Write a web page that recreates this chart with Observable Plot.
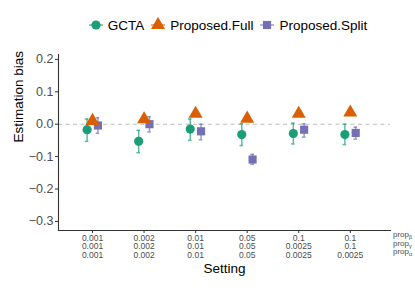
<!DOCTYPE html>
<html>
<head>
<meta charset="utf-8">
<script src="https://cdn.jsdelivr.net/npm/d3@7"></script>
<script src="https://cdn.jsdelivr.net/npm/@observablehq/plot@0.6"></script>
<style>
  html, body { margin: 0; padding: 0; background: #fff; }
  #wrap { position: relative; width: 415px; height: 291px; overflow: hidden; font-family: "Liberation Sans", Arial, Helvetica, sans-serif; }
  #legend { position: absolute; top: 17px; left: 0; width: 415px; display: flex; justify-content: center; align-items: center; font-size: 13.5px; color: #000; padding-left: 44px; box-sizing: border-box; }
  #legend .item { display: flex; align-items: center; margin-right: 5px; }
  #legend svg { margin-right: 3px; }
  #props { position: absolute; left: 393px; top: 231px; font-size: 8px; color: #4d4d4d; line-height: 8.6px; white-space: nowrap; }
  #props sub { font-size: 5.5px; vertical-align: -1.5px; line-height: 0; }
</style>
</head>
<body>
<div id="wrap">
  <div id="chart"></div>
  <div id="legend"></div>
  <div id="props">prop<sub>β</sub><br>prop<sub>γ</sub><br>prop<sub>α</sub></div>
</div>
<script>
// ---- data ----
const propBeta  = ["0.001", "0.002", "0.01", "0.05", "0.1",    "0.1"];
const propGamma = ["0.001", "0.002", "0.01", "0.05", "0.0025", "0.1"];
const propAlpha = ["0.001", "0.002", "0.01", "0.05", "0.0025", "0.0025"];

const seriesNames = ["GCTA", "Proposed.Full", "Proposed.Split"];
const seriesColors = ["#1B9E77", "#D95F02", "#7570B3"];
const seriesSymbols = ["circle", "triangle", "square"];

const gctaMean = [-0.017, -0.053, -0.015, -0.032, -0.029, -0.032];
const gctaLo   = [-0.053, -0.088, -0.050, -0.066, -0.061, -0.063];
const gctaHi   = [ 0.016, -0.019,  0.016,  0.001,  0.003,  0.000];

const fullMean = [0.010, 0.015, 0.032, 0.017, 0.032, 0.036];
const fullLo   = [0.006, 0.011, 0.028, 0.013, 0.028, 0.032];
const fullHi   = [0.014, 0.019, 0.036, 0.021, 0.036, 0.040];

const splitMean = [-0.004,  0.000, -0.022, -0.109, -0.017, -0.027];
const splitLo   = [-0.028, -0.024, -0.048, -0.124, -0.040, -0.046];
const splitHi   = [ 0.020,  0.023,  0.000, -0.093,  0.001, -0.009];

const yTicks = [-0.3, -0.2, -0.1, 0.0, 0.1, 0.2];

// ---- build table ----
const dodge = [-0.105, 0, 0.105];
const means = [gctaMean, fullMean, splitMean];
const los = [gctaLo, fullLo, splitLo];
const his = [gctaHi, fullHi, splitHi];
const rows = [];
seriesNames.forEach((s, k) => {
  means[k].forEach((m, i) => {
    rows.push({s, i, x: i + dodge[k], y: m, lo: los[k][i], hi: his[k][i]});
  });
});
const cap = 0.035;
const tri = rows.filter(d => d.s === "Proposed.Full");
const others = rows.filter(d => d.s !== "Proposed.Full");

const chart = Plot.plot({
  width: 415,
  height: 291,
  marginLeft: 58,
  marginRight: 25,
  marginTop: 54,
  marginBottom: 61,
  style: {fontFamily: "'Liberation Sans', Arial, Helvetica, sans-serif", background: "#fff"},
  x: {domain: [-0.66, 5.78], axis: null},
  y: {domain: [-0.328, 0.215], axis: null},
  color: {domain: seriesNames, range: seriesColors},
  symbol: {domain: seriesNames, range: seriesSymbols},
  marks: [
    Plot.ruleY([0], {stroke: "#bdbdbd", strokeDasharray: "4,3.5", strokeWidth: 1.1}),
    Plot.ruleX(rows, {x: "x", y1: "lo", y2: "hi", stroke: "s", strokeOpacity: 0.7, strokeWidth: 1.5}),
    Plot.ruleY(rows, {y: "lo", x1: d => d.x - cap, x2: d => d.x + cap, stroke: "s", strokeOpacity: 0.7, strokeWidth: 1.5}),
    Plot.ruleY(rows, {y: "hi", x1: d => d.x - cap, x2: d => d.x + cap, stroke: "s", strokeOpacity: 0.7, strokeWidth: 1.5}),
    Plot.dot(others, {x: "x", y: "y", fill: "s", symbol: "s", r: 4.6, stroke: "none"}),
    Plot.dot(tri, {x: "x", y: "y", fill: "s", symbol: "s", r: 5.2, stroke: "none"}),
    Plot.frame({anchor: "left", stroke: "#333", strokeWidth: 1.1}),
    Plot.frame({anchor: "bottom", stroke: "#333", strokeWidth: 1.1}),
    Plot.axisY({ticks: yTicks, tickFormat: d => d.toFixed(1).replace("-", "\u2212"), fontSize: 12.5, color: "#4d4d4d", stroke: "#333", tickSize: 3, tickPadding: 2, label: null}),
    Plot.axisX({ticks: [0, 1, 2, 3, 4, 5], tickFormat: i => `${propBeta[i]}\n${propGamma[i]}\n${propAlpha[i]}`, fontSize: 8.5, lineHeight: 1.0, color: "#4d4d4d", stroke: "#333", tickSize: 3, tickPadding: 1, label: null}),
    Plot.text(["Setting"], {frameAnchor: "bottom", dy: 42, text: d => d, fontSize: 13.5, fill: "#000"}),
    Plot.text(["Estimation bias"], {frameAnchor: "left", dx: -40, rotate: -90, text: d => d, fontSize: 13.5, fill: "#000"})
  ]
});
document.getElementById("chart").appendChild(chart);

// ---- legend ----
const legend = document.getElementById("legend");
const symPaths = {
  circle: d3.symbol(d3.symbolCircle, Math.PI * 4.6 * 4.6)(),
  triangle: d3.symbol(d3.symbolTriangle, Math.PI * 5.2 * 5.2)(),
  square: d3.symbol(d3.symbolSquare, Math.PI * 4.6 * 4.6)()
};
seriesNames.forEach((s, k) => {
  const item = document.createElement("div");
  item.className = "item";
  item.innerHTML = `<svg width="18" height="16" viewBox="-9 -8 18 16"><line x1="-7" x2="7" y1="0" y2="0" stroke="${seriesColors[k]}" stroke-opacity="0.7" stroke-width="1.5"/><path d="${symPaths[seriesSymbols[k]]}" fill="${seriesColors[k]}"/></svg><span>${s}</span>`;
  legend.appendChild(item);
});
</script>
</body>
</html>
